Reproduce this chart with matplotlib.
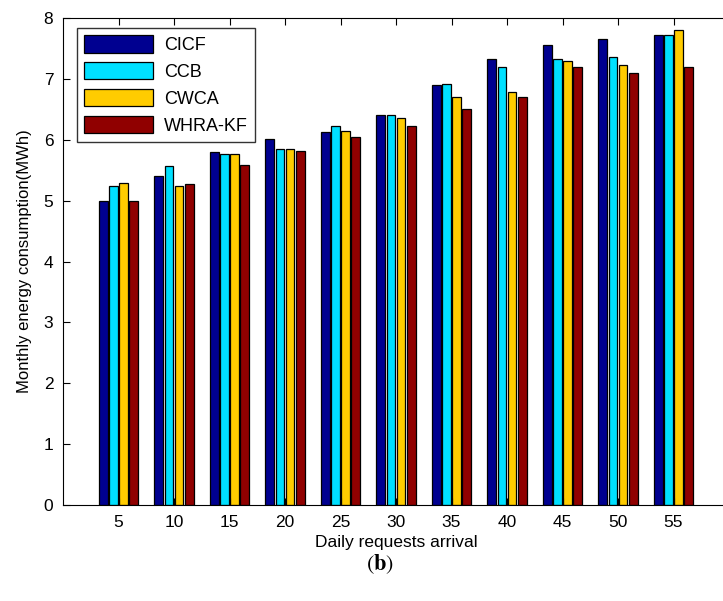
import numpy as np
import matplotlib
matplotlib.use('Agg')
import matplotlib.pyplot as plt

# data
arrivals = [5, 10, 15, 20, 25, 30, 35, 40, 45, 50, 55]
cicf = [5.00, 5.41, 5.80, 6.01, 6.13, 6.41, 6.90, 7.32, 7.55, 7.66, 7.72]
ccb = [5.24, 5.57, 5.77, 5.84, 6.22, 6.41, 6.92, 7.20, 7.33, 7.36, 7.72]
cwca = [5.29, 5.24, 5.77, 5.84, 6.15, 6.36, 6.70, 6.78, 7.29, 7.22, 7.81]
whra_kf = [4.99, 5.27, 5.59, 5.82, 6.05, 6.22, 6.50, 6.71, 7.20, 7.10, 7.20]

series = [('CICF', cicf, '#000090'),
          ('CCB', ccb, '#00E0FF'),
          ('CWCA', cwca, '#FFCC00'),
          ('WHRA-KF', whra_kf, '#900000')]

plt.rcParams['font.family'] = ['Liberation Sans', 'DejaVu Sans']
plt.rcParams['mathtext.fontset'] = 'stix'

fig = plt.figure(figsize=(7.23, 6.01), dpi=100)
# axes runs past the right edge of the picture, as in the cropped original
ax = fig.add_axes([63 / 723, 96 / 601, 666 / 723, 487 / 601])

x = np.array(arrivals, dtype=float)
pitch = 0.92
for i, (name, vals, col) in enumerate(series):
    ax.bar(x + (i - 1.5) * pitch, vals, width=0.78, color=col,
           edgecolor='black', linewidth=0.9, label=name)

ax.set_xlim(0, 60)
ax.set_ylim(0, 8)
ax.set_xticks(arrivals)
ax.set_yticks(range(9))
ax.tick_params(direction='in', top=True, right=False, labelsize=12.5,
               length=5, pad=7)
ax.set_xlabel('Daily requests arrival', fontsize=12.5, labelpad=4)
ax.set_ylabel('Monthly energy consumption(MWh)', fontsize=12, labelpad=8)

leg = ax.legend(loc='upper left', bbox_to_anchor=(14 / 666, 1 - 10 / 487),
                borderaxespad=0, fontsize=13, fancybox=False,
                edgecolor='black', handlelength=3.8, handleheight=1.1,
                labelspacing=0.45, handletextpad=0.6)
leg.get_frame().set_linewidth(1.0)

fig.text(380 / 723, 1 - 564 / 601, r'$(\mathbf{b})$', ha='center', va='center',
         fontsize=16)

fig.savefig('out.png', dpi=100)
